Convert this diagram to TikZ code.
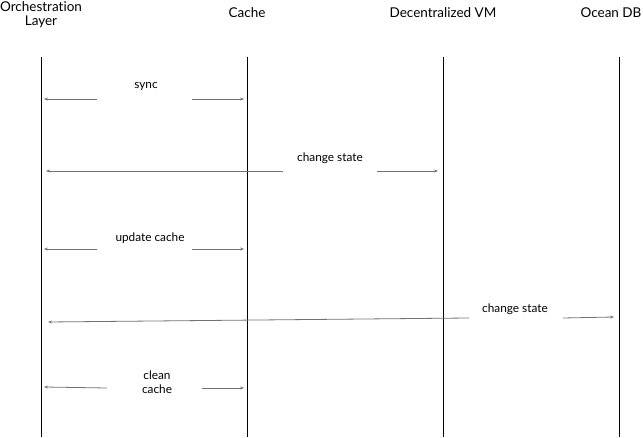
\documentclass[tikz,border=0pt]{standalone}
\usepackage{fontspec}
\setmainfont[Ligatures={NoCommon,NoRare}]{Lato}
\usetikzlibrary{arrows.meta}
\begin{document}
\begin{tikzpicture}[x=1pt,y=-1pt,
  head/.style={font=\fontsize{13.5}{14}\selectfont, align=center, inner sep=0pt},
  lbl/.style={font=\fontsize{11.8}{14}\selectfont, align=center, inner sep=0pt},
  life/.style={draw=black, line width=0.9pt},
  msg/.style={draw=black!55, line width=0.8pt, -{Stealth[length=4pt,width=3pt]}}]
\useasboundingbox (0,0) rectangle (643,438);
% headers
\node[head] (h1) at (41,15) {Orchestration\\Layer};
\node[head] (h2) at (247,13) {Cache};
\node[head] (h3) at (443,13) {Decentralized VM};
\node[head] (h4) at (611,13) {Ocean DB};
% lifelines
\coordinate (l1t) at (41,57); \coordinate (l1b) at (41,437);
\coordinate (l2t) at (247,57); \coordinate (l2b) at (247,437);
\coordinate (l3t) at (443,57); \coordinate (l3b) at (443,437);
\coordinate (l4t) at (619,57); \coordinate (l4b) at (619,437);
\draw[life] (l1t) -- (l1b);
\draw[life] (l2t) -- (l2b);
\draw[life] (l3t) -- (l3b);
\draw[life] (l4t) -- (l4b);
% sync
\node[lbl] (m1) at (146,86) {sync};
\coordinate (m1a) at (97,99); \coordinate (m1b) at (44,99);
\coordinate (m1c) at (192,99); \coordinate (m1d) at (244,99);
\draw[msg] (m1a) -- (m1b);
\draw[msg] (m1c) -- (m1d);
% change state 1
\node[lbl] (m2) at (330,158) {change state};
\coordinate (m2a) at (283,171); \coordinate (m2b) at (46,171);
\coordinate (m2c) at (377,171); \coordinate (m2d) at (438,171);
\draw[msg] (m2a) -- (m2b);
\draw[msg] (m2c) -- (m2d);
% update cache
\node[lbl] (m3) at (150,238) {update cache};
\coordinate (m3a) at (97,249); \coordinate (m3b) at (44,249);
\coordinate (m3c) at (192,249); \coordinate (m3d) at (244,249);
\draw[msg] (m3a) -- (m3b);
\draw[msg] (m3c) -- (m3d);
% change state 2
\node[lbl] (m4) at (515,309) {change state};
\coordinate (m4a) at (469,318); \coordinate (m4b) at (48,322);
\coordinate (m4c) at (563,318); \coordinate (m4d) at (614,317);
\draw[msg] (m4a) -- (m4b);
\draw[msg] (m4c) -- (m4d);
% clean cache
\node[lbl] (m5) at (157,382) {clean\\cache};
\coordinate (m5a) at (107,388); \coordinate (m5b) at (44,387);
\coordinate (m5c) at (202,388); \coordinate (m5d) at (244,388);
\draw[msg] (m5a) -- (m5b);
\draw[msg] (m5c) -- (m5d);
\end{tikzpicture}
\end{document}
